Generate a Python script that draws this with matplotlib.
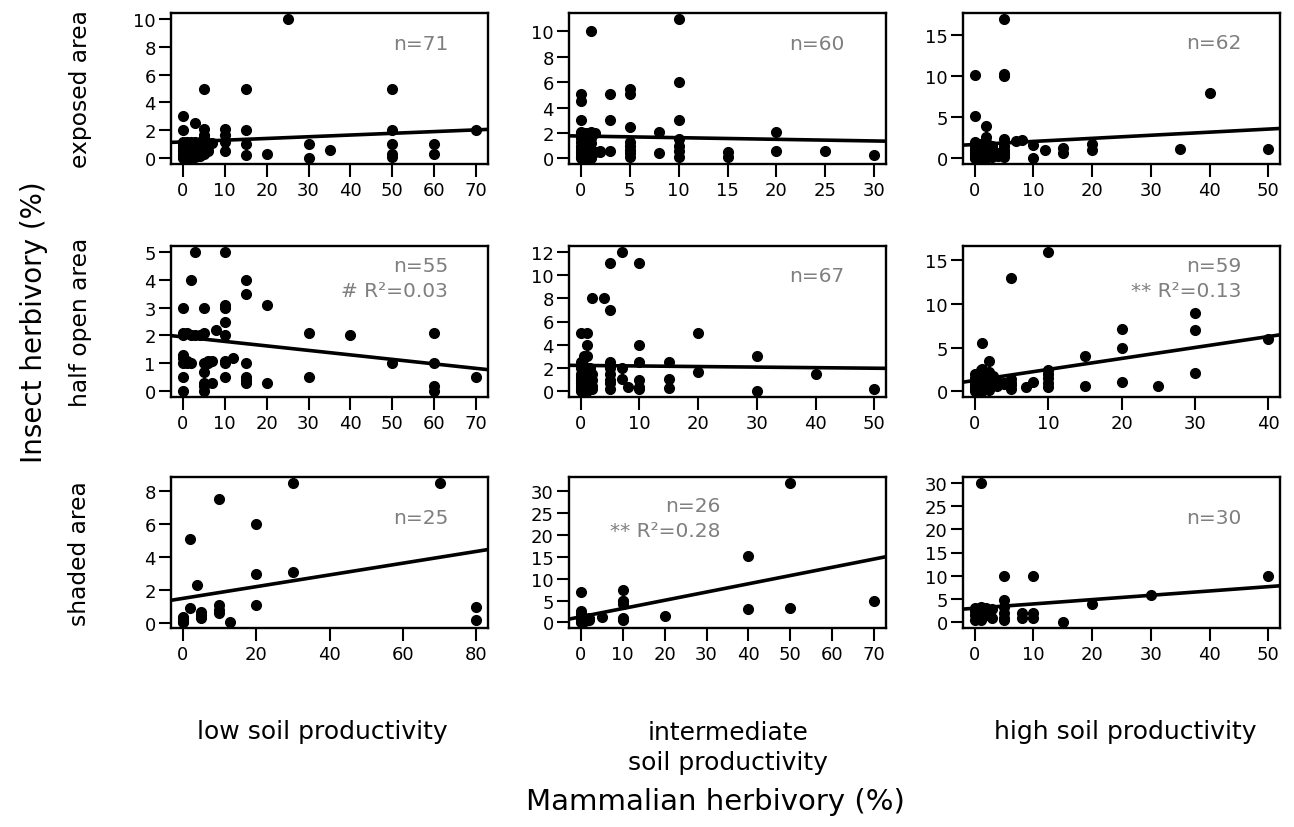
import matplotlib
matplotlib.use("Agg")
import matplotlib.pyplot as plt

plt.rcParams['font.family'] = ['DejaVu Sans']

# ---- data (x = mammalian herbivory, y = insect herbivory) ----
# row 1: exposed area
low_exp_x = [25, 5, 15, 50, 0, 0, 3, 5, 5, 10, 10, 10, 10, 15, 15, 15, 20, 30, 30, 35,
             50, 50, 50, 50, 60, 60, 70, 7,
             0, 0, 0, 0, 0, 0, 0, 1, 1, 1, 1, 2, 2, 2, 2, 3, 3, 3, 3, 4, 4, 4,
             5, 5, 5, 5, 6, 6, 1, 2, 0, 1, 3, 4, 5, 2, 1, 0, 4, 3, 6, 5, 4]
low_exp_y = [10, 5, 5, 5, 3, 2, 2.5, 2.1, 1.7, 2.1, 1.7, 1.2, 0.5, 2, 1, 0.25, 0.3, 1, 0, 0.6,
             2, 1, 0.3, 0.1, 1, 0.3, 2, 1.1,
             1.2, 1.0, 0.8, 0.5, 0.3, 0.1, 0, 0.9, 0.5, 0.2, 0, 1.1, 0.7, 0.3, 0, 1.2, 0.8, 0.4, 0.1,
             1.0, 0.6, 0.2, 1.3, 1.0, 0.7, 0.3, 1.1, 0.5,
             1.2, 1.2, 0.6, 0.7, 0.6, 0.4, 0.5, 0.5, 0.3, 0.2, 0.8, 1.0, 0.8, 1.5, 1.2]

mid_exp_x = [1, 10, 10, 10, 10, 10, 10, 10, 0, 0, 0, 0, 0, 1, 1, 2, 3, 3, 3,
             5, 5, 5, 5, 5, 5, 5, 5, 8, 8, 15, 15, 20, 20, 25, 30,
             0, 0, 0, 0, 0, 0, 0, 0, 0, 0.5, 0.5, 0.5, 0.5, 1, 1, 1, 1, 1, 1,
             1.5, 1.5, 2, 0, 0.5, 1]
mid_exp_y = [10, 11, 6, 3, 1.5, 1.0, 0.6, 0.1, 5.1, 4.5, 3, 2.1, 1.3, 2.1, 1.6, 0.5, 5.1, 3, 0.6,
             5.5, 5.1, 2.5, 1.3, 1.0, 0.7, 0.4, 0.1, 2.1, 0.4, 0.5, 0.1, 2.1, 0.6, 0.6, 0.3,
             2.0, 1.8, 1.0, 0.8, 0.6, 0.4, 0.2, 0.1, 0, 1.5, 0.8, 0.3, 0.1, 1.9, 1.2, 0.7, 0.4, 0.1, 0,
             0.5, 2.0, 0.6, 1.6, 2.0, 0.6]

high_exp_x = [5, 0, 5, 5, 0, 2, 2, 2, 2, 2, 5, 5, 5, 5, 7, 8, 10, 10, 12, 15, 15, 20, 20, 35, 40, 50,
              0, 0, 0, 0, 0, 0, 0, 0, 0.5, 0.5, 0.5, 0.5, 0.5, 1, 1, 1, 1, 1, 1,
              1.5, 1.5, 2, 2, 2, 3, 3, 3, 4, 4, 5, 5, 1, 0, 3, 2, 1]
high_exp_y = [17, 10.1, 10.0, 10.3, 5.1, 4, 2.6, 2, 1.5, 1, 2.4, 1.5, 1, 0.2, 2.1, 2.2, 1.6, 0.1, 1,
              1.3, 0.6, 1.8, 1, 1.1, 8, 1.1,
              1.5, 1.2, 1.0, 0.8, 0.5, 0.3, 0.1, 0, 1.3, 0.9, 0.6, 0.2, 0, 1.4, 1.1, 0.8, 0.5, 0.2, 0,
              1.0, 0.4, 0.7, 0.4, 0.1, 0.9, 0.5, 0.2, 0.6, 0.3, 0.6, 0.4, 1.8, 2.0, 1.5, 0.2, 0.3]

# row 2: half open area
low_half_x = [3, 10, 2, 15, 15, 0, 5, 10, 10, 10, 10, 20, 0, 1, 3, 5, 8, 30, 40, 60,
              0, 0, 1, 2, 0, 0, 5, 5, 5, 5, 6, 7, 7, 10, 10, 12, 15, 15, 15, 20, 30, 50, 60, 60, 60, 70,
              0, 2, 4, 1, 0, 5, 6, 10, 15]
low_half_y = [5, 5, 4, 4, 3.5, 3, 3, 3.1, 3.0, 2.5, 2.0, 3.1, 2.1, 2.1, 2.0, 2.1, 2.2, 2.1, 2.0, 2.1,
              1.3, 1.0, 1.1, 1.0, 0.5, 0, 1.0, 0.7, 0.3, 0, 1.1, 1.1, 0.3, 1.1, 0.5, 1.2, 1.0, 0.5, 0.3,
              0.3, 0.5, 1.0, 1.0, 0.2, 0, 0.5,
              2.0, 2.0, 2.0, 1.0, 1.2, 0.2, 1.0, 1.0, 0.4]

mid_half_x = [7, 5, 10, 2, 4, 5, 0, 1, 1, 10, 20, 0.5, 1, 0, 0, 0, 0, 0, 0,
              1.5, 1.5, 1.5, 2, 2, 5, 5, 5, 5, 7, 7, 8, 10, 10, 10, 10, 15, 15, 15, 20, 30, 30, 40, 50,
              0, 0, 0, 0, 0.5, 0.5, 0.5, 0.5, 0.5, 1, 1, 1, 1, 1, 1.5, 1.5, 2, 2, 0.5, 1, 5, 5, 0, 1]
mid_half_y = [12, 11, 11, 8, 8, 7, 5, 5, 4, 4, 5, 3, 3, 2, 1.5, 1.0, 0.7, 0.3, 0,
              1.5, 1.0, 0.5, 1.5, 0.5, 2.5, 2, 0.7, 0.2, 2, 1.1, 0.4, 2.5, 1, 0.4, 0.2, 2.5, 1.1, 0.3,
              1.7, 3, 0, 1.5, 0.2,
              2.5, 1.2, 0.5, 0.1, 2.2, 1.3, 0.8, 0.4, 0, 2.0, 1.2, 0.6, 0.2, 0, 2.0, 0.2, 1.0, 0.2,
              1.0, 0.9, 1.0, 1.5, 0.9, 1.5]

high_half_x = [10, 5, 1, 2, 0, 0.8, 15, 20, 20, 20, 30, 30, 30, 40, 15, 25,
               10, 10, 10, 10, 10, 5, 5, 7, 8, 3,
               0, 0, 0, 0, 0, 0.5, 0.5, 0.5, 0.5, 0.5, 1, 1, 1, 1, 1, 1, 1.5, 1.5, 1.5,
               2, 2, 2, 2, 2, 2.5, 2.5, 3, 3, 4, 4, 5, 5, 1]
high_half_y = [16, 13, 5.5, 3.5, 2, 2.5, 4, 7.1, 5, 1.1, 9, 7, 2.1, 6, 0.6, 0.6,
               2.5, 2, 1.5, 1, 0.5, 1.4, 0.3, 0.5, 1.1, 1,
               1.5, 1.0, 0.6, 0.3, 0, 1.8, 1.2, 0.8, 0.4, 0.1, 2.2, 1.6, 1.2, 0.8, 0.4, 0, 2.0, 1.0, 0.5,
               2.2, 1.5, 1.0, 0.6, 0.2, 1.8, 1.2, 0.6, 1.3, 1.0, 0.8, 1.0, 0.7, 2.6]

# row 3: shaded area
low_shade_x = [10, 2, 20, 30, 70, 4, 20, 30, 20, 10, 10, 2, 5, 5, 13, 0, 0, 0, 80, 80,
               0, 0, 0, 5, 10]
low_shade_y = [7.5, 5.1, 6, 8.5, 8.5, 2.3, 3, 3.1, 1.1, 1.1, 0.6, 0.9, 0.65, 0.3, 0.1, 0.35, 0.15, 0.05,
               1.0, 0.2, 0.2, 0.3, 0.1, 0.5, 0.8]

mid_shade_x = [50, 40, 0, 10, 10, 10, 10, 10, 0, 0, 0, 0, 2, 5, 20, 40, 50, 70,
               0, 0, 0, 1, 1, 2, 10, 10]
mid_shade_y = [32, 15.1, 7, 7.5, 5, 4.2, 1, 0.5, 2.6, 1.3, 0.5, 0, 0.5, 1.2, 1.5, 3.1, 3.2, 5,
               2.0, 1.0, 0.2, 0.8, 0.3, 1.0, 4.8, 0.8]

high_shade_x = [1, 5, 10, 50, 30, 20, 15, 5, 5, 5, 5, 5, 8, 8, 10, 10, 0, 0, 1, 1, 2, 3,
                0, 0, 1, 1, 2, 2, 1, 3]
high_shade_y = [30, 10, 10, 10, 5.9, 3.9, 0, 4.9, 3.4, 2, 1, 0.5, 2.1, 0.9, 2.1, 0.9, 3, 0.5, 3.2, 0.5,
                2.6, 1, 2.5, 1.5, 2.0, 1.2, 3.0, 1.5, 0.8, 2.8]

# fitted lines (intercept, slope) as drawn in the reference
fit_a = [[1.18, 1.76, 1.69], [1.95, 2.23, 1.26], [1.50, 1.28, 3.04]]
fit_b = [[0.0123, -0.0129, 0.0375], [-0.0161, -0.0048, 0.1254], [0.0355, 0.189, 0.0926]]

# panel annotations
n_labels = [["n=71", "n=60", "n=62"], ["n=55", "n=67", "n=59"], ["n=25", "n=26", "n=30"]]
r2_labels = [["", "", ""], ["# R²=0.03", "", "** R²=0.13"], ["", "** R²=0.28", ""]]

x_ticks = [[range(0, 71, 10), range(0, 31, 5), range(0, 51, 10)],
           [range(0, 71, 10), range(0, 51, 10), range(0, 41, 10)],
           [range(0, 81, 20), range(0, 71, 10), range(0, 51, 10)]]
y_ticks = [[range(0, 11, 2), range(0, 11, 2), range(0, 16, 5)],
           [range(0, 6, 1), range(0, 13, 2), range(0, 16, 5)],
           [range(0, 9, 2), range(0, 31, 5), range(0, 31, 5)]]

row_names = ["exposed area", "half open area", "shaded area"]
col_names = ["low soil productivity", "intermediate\nsoil productivity", "high soil productivity"]

panels = [[(low_exp_x, low_exp_y), (mid_exp_x, mid_exp_y), (high_exp_x, high_exp_y)],
          [(low_half_x, low_half_y), (mid_half_x, mid_half_y), (high_half_x, high_half_y)],
          [(low_shade_x, low_shade_y), (mid_shade_x, mid_shade_y), (high_shade_x, high_shade_y)]]

# ---- layout (pixel positions of the panel boxes) ----
W, H = 1294, 828
col_left = [171, 569, 963]
row_top = [14, 247, 478]
pw, ph = 317, 151

# text placement inside panels (axes fraction): right edge x, y of n / R2 lines
n_pos = [[(0.874, 0.795), (0.870, 0.795), (0.877, 0.806)],
         [(0.874, 0.870), (0.870, 0.803), (0.877, 0.870)],
         [(0.874, 0.730), (0.477, 0.810), (0.877, 0.730)]]
r2_dy = 0.166

gray = '#7f7f7f'

fig = plt.figure(figsize=(W / 100, H / 100), dpi=100)

for r in range(3):
    for c in range(3):
        x, y = panels[r][c]
        ax = fig.add_axes([col_left[c] / W, 1 - (row_top[r] + ph) / H, pw / W, ph / H])
        ax.plot(x, y, 'o', color='black', ms=7, mec='black', zorder=3)
        ax.margins(0.04)
        ax.autoscale_view()
        ax.set_xlim(ax.get_xlim())
        ax.set_ylim(ax.get_ylim())
        ax.axline((0, fit_a[r][c]), slope=fit_b[r][c], color='black', lw=2.6, zorder=2)

        ax.set_xticks(list(x_ticks[r][c]))
        ax.set_yticks(list(y_ticks[r][c]))
        ax.tick_params(axis='both', direction='out', length=9, width=1.5,
                       labelsize=13, pad=2)
        ax.tick_params(axis='x', pad=3)
        for s in ax.spines.values():
            s.set_linewidth(1.7)

        tx, ty = n_pos[r][c]
        ax.text(tx, ty, n_labels[r][c], transform=ax.transAxes, ha='right', va='center',
                fontsize=14.5, color=gray)
        if r2_labels[r][c]:
            ax.text(tx, ty - r2_dy, r2_labels[r][c], transform=ax.transAxes, ha='right',
                    va='center', fontsize=14.5, color=gray)

# row labels
for r in range(3):
    fig.text(80 / W, 1 - (row_top[r] + ph / 2) / H, row_names[r], rotation=90,
             ha='center', va='center', fontsize=16.8)

# column labels
col_cx = [322, 728, 1125]
for c in range(3):
    if '\n' in col_names[c]:
        fig.text(col_cx[c] / W, 1 - 748 / H, col_names[c], ha='center', va='center',
                 fontsize=18, linespacing=1.32)
    else:
        fig.text(col_cx[c] / W, 1 - 732 / H, col_names[c], ha='center', va='center',
                 fontsize=18)

fig.text(34 / W, 1 - 322 / H, "Insect herbivory (%)", rotation=90, ha='center', va='center',
         fontsize=20)
fig.text(715 / W, 1 - 802 / H, "Mammalian herbivory (%)", ha='center', va='center',
         fontsize=21)

fig.savefig("out.png", dpi=100)
